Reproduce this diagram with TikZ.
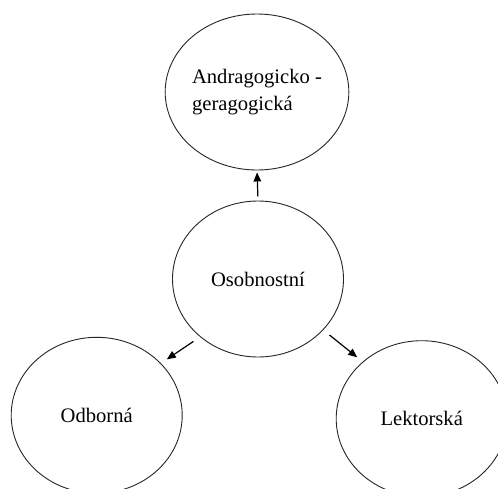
\documentclass[tikz,border=0pt]{standalone}
\usepackage{fontspec}
\setmainfont{Liberation Serif}
\usetikzlibrary{shapes.geometric,arrows.meta}
\begin{document}
\begin{tikzpicture}[x=1pt,y=1pt,
  circ/.style={draw=black!85,line width=0.9pt,ellipse,minimum width=171pt,minimum height=156pt,inner sep=0pt,font=\fontsize{20.6}{26.7}\selectfont,align=left},
  arr/.style={line width=1.2pt,-{Triangle[length=9pt,width=7.5pt]}}]
\clip (0,0) rectangle (498,-488);
\fill[white] (0,0) rectangle (498,-488);
\node[circ] (top) at (257,-92) {Andragogicko -\\geragogická};
\node[circ] (mid) at (258,-279) {Osobnostní};
\node[circ] (left) at (96.7,-415.3) {Odborná};
\node[circ] (right) at (421.7,-418.7) {Lektorská};
\draw[arr,shorten <=4pt,shorten >=2pt] (mid.north) -- (top.south);
\draw[arr,shorten <=8pt,shorten >=7pt] (mid.225) -- (left.39);
\draw[arr,shorten <=8pt,shorten >=7pt] (mid.-38) -- (right.136);
\end{tikzpicture}
\end{document}
